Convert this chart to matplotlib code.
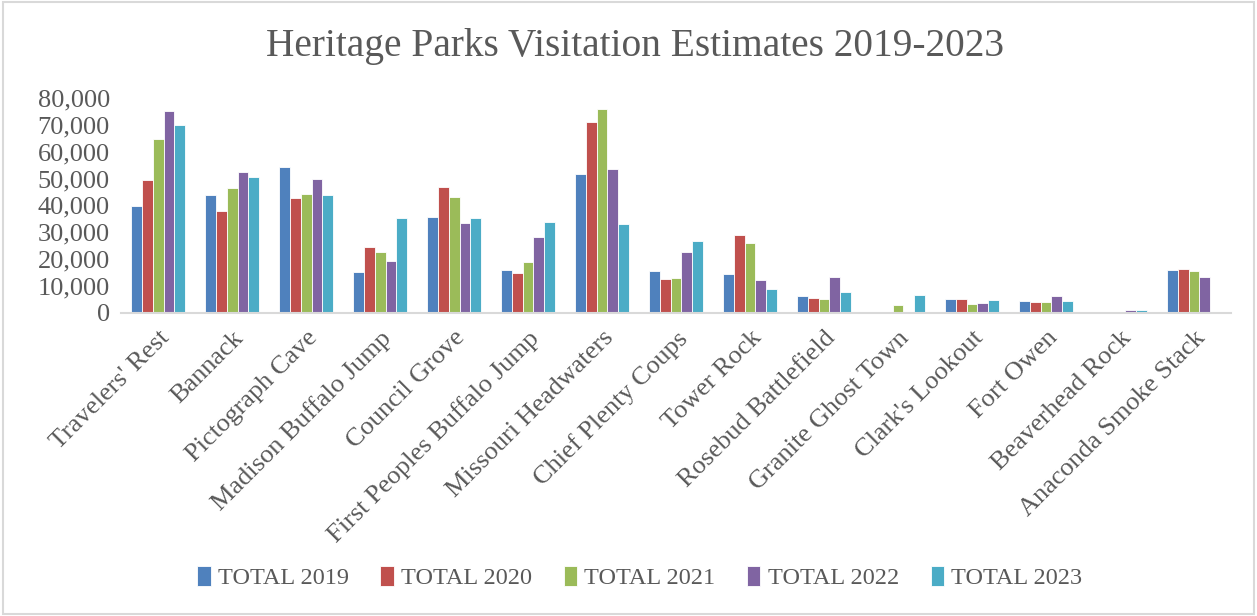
import numpy as np
import matplotlib
matplotlib.use("Agg")
from matplotlib import pyplot as plt
from matplotlib.patches import Rectangle

# park names on the x axis
parks = ["Travelers' Rest", "Bannack", "Pictograph Cave", "Madison Buffalo Jump",
         "Council Grove", "First Peoples Buffalo Jump", "Missouri Headwaters",
         "Chief Plenty Coups", "Tower Rock", "Rosebud Battlefield",
         "Granite Ghost Town", "Clark's Lookout", "Fort Owen",
         "Beaverhead Rock", "Anaconda Smoke Stack"]

years = ["TOTAL 2019", "TOTAL 2020", "TOTAL 2021", "TOTAL 2022", "TOTAL 2023"]

# visitation estimates (0 = no bar)
total_2019 = [39700, 43700, 54200, 15200, 35700, 15900, 51800, 15600, 14500, 6200, 0, 5200, 4500, 0, 16000]
total_2020 = [49400, 37900, 42700, 24600, 46700, 15000, 71000, 12600, 29000, 5600, 0, 5200, 4100, 0, 16500]
total_2021 = [64900, 46400, 44400, 22800, 43100, 19000, 75900, 13000, 26200, 5100, 3100, 3400, 4100, 0, 15600]
total_2022 = [75000, 52300, 50000, 19200, 33600, 28100, 53700, 22500, 12400, 13200, 0, 3700, 6200, 1000, 13500]
total_2023 = [70000, 50500, 43700, 35300, 35200, 33900, 33200, 26800, 8900, 7900, 6600, 4900, 4400, 1200, 0]

series = [total_2019, total_2020, total_2021, total_2022, total_2023]
colors = ["#4F81BD", "#C0504D", "#9BBB59", "#8064A2", "#4BACC6"]
grey = "#595959"

plt.rcParams['font.family'] = ['Liberation Serif', 'DejaVu Serif']

fig = plt.figure(figsize=(12.57, 6.16), dpi=100)
ax = fig.add_axes([0.0963, 0.492, 0.883, 0.349])

x = np.arange(len(parks))
w = 0.148
for i, (vals, c, lab) in enumerate(zip(series, colors, years)):
    vals = np.array(vals, dtype=float)
    ax.bar(x + (i - 2) * w, np.where(vals > 0, vals, np.nan), width=w, color=c,
           edgecolor="white", linewidth=0.6, label=lab)

ax.set_xlim(-0.5, len(parks) - 0.5)
ax.set_ylim(0, 80000)
ax.set_yticks(np.arange(0, 80001, 10000))
ax.set_yticklabels([f"{v:,}" for v in range(0, 80001, 10000)])
ax.set_xticks(x)
ax.set_xticklabels(parks, rotation=45, ha="right", rotation_mode="anchor")
ax.tick_params(axis="both", length=0, labelsize=19, colors=grey, pad=8)
ax.tick_params(axis="x", pad=10)

for s in ["top", "right", "left"]:
    ax.spines[s].set_visible(False)
ax.spines["bottom"].set_color("#D9D9D9")
ax.spines["bottom"].set_linewidth(1.5)

fig.text(0.505, 0.925, "Heritage Parks Visitation Estimates 2019-2023", ha="center",
         va="center", fontsize=28.4, color=grey)

handles, labels = ax.get_legend_handles_labels()
fig.legend(handles, labels, loc="center", bbox_to_anchor=(0.509, 0.062), ncol=5,
           frameon=False, fontsize=17.5, labelcolor=grey, handlelength=0.55,
           handleheight=0.85, handletextpad=0.3, columnspacing=1.3)

fig.patches.append(Rectangle((0.002, 0.003), 0.996, 0.994, transform=fig.transFigure,
                             fill=False, edgecolor="#D9D9D9", linewidth=1.5))

fig.savefig("out.png", dpi=100)
